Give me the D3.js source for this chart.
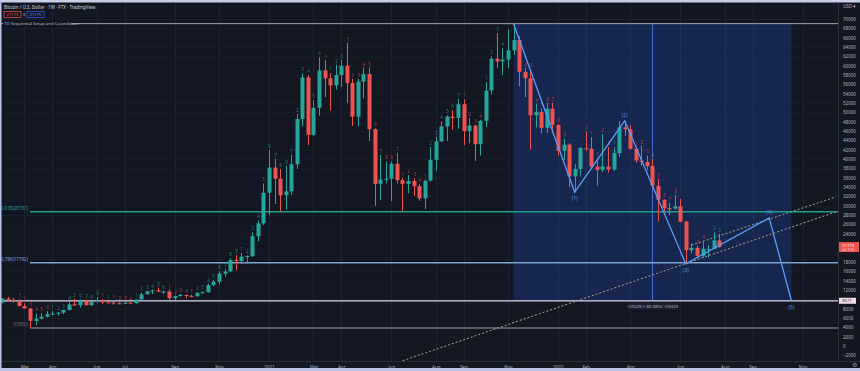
<!DOCTYPE html>
<html>
<head>
<meta charset="utf-8">
<script src="https://cdn.jsdelivr.net/npm/d3@7"></script>
<style>
  html, body { margin: 0; padding: 0; background: #131722; }
  svg { display: block; font-family: "Noto Sans", Roboto, sans-serif; }
</style>
</head>
<body>
<svg id="chart" width="860" height="371"></svg>
<script>
// weekly BTC/USD candles (FTX, 1W), first bar = week of 2020-01-27
var firstWeek = "2020-01-27";
var opens = [8370,9330,10150,9900,9650,8550,8030,5370,5830,6250,6780,6900,7130,7690,8900,8720,9680,8720,9450,9760,
  9330,9300,9140,9080,9250,9160,9940,11050,11700,11900,11650,11660,10250,10670,10920,10720,10660,11370,11500,13030,
  13760,15480,15960,18400,18180,19150,19270,23480,26250,32800,38200,35800,32250,33100,38900,48600,57500,45200,51000,59000,
  57300,55800,58000,60000,56300,49100,56600,58200,46400,34700,35600,35800,39000,35500,34700,35300,34200,31600,35400,39850,
  43800,47000,49100,48800,51750,46000,47200,43200,48200,54700,61500,60900,61300,63300,65500,58700,57300,49400,50100,46700,
  50800,47300,41800,43100,36300,37900,42400,42200,38400,37700,38400,37800,41300,46800,46400,42200,39700,39400,38500,34300,
  31300,29500,29400,29900,26600,20500,21000,19300,20800,20800,22600];
var highs = [9570,10160,10500,10250,9950,9180,8150,6950,6980,7480,7480,7250,7750,9470,10070,9950,9880,9600,10430,9990,
  9590,9790,9350,9470,9300,9950,11450,11800,12080,12480,11800,12080,10800,11180,10980,10950,11450,11720,13350,14100,
  15970,16480,18800,19490,19900,19400,24300,26900,34800,41950,40100,37850,38600,40950,49700,58350,58000,52600,61800,61200,
  58400,60200,61300,64900,57200,57200,59600,59600,46600,40900,39500,39500,41300,36000,36600,35900,34700,35600,42600,44800,
  48100,49400,50500,52900,52800,48800,47400,48400,56500,62000,67000,63700,67800,69000,66300,59600,59200,51900,50900,52100,
  52100,47500,44400,43400,38900,42600,45900,44700,40300,45400,42600,42500,48200,48200,47200,42400,42900,40800,40000,35800,
  31400,30600,32400,31500,26800,21900,21500,22500,21600,24300,24000];
var lows = [8290,9150,9700,9300,8450,8000,3850,4440,5700,6150,6750,6480,6800,7640,8540,8200,8700,8630,9270,9050,
  9200,8830,8930,9050,9010,9100,9900,10950,11130,11500,11120,9900,9850,10600,10150,10400,10530,11220,11400,12750,
  13200,14800,15800,16200,17600,17600,19000,22400,25900,28000,30400,28800,29200,32300,37900,47000,43000,44950,49300,53300,
  50400,54900,55500,52000,47100,47000,53000,43900,30000,31200,34800,31000,34800,28800,32700,32100,31100,29300,35200,37500,
  43700,43900,46300,46500,43000,43400,39600,40800,46900,53900,59500,58000,59500,62300,55600,53300,42000,46800,45500,45600,
  45700,40700,39800,34000,32900,36300,41700,38000,34300,37200,37100,37500,40500,45000,42000,39200,38600,37600,33700,26700,
  28700,28000,29200,26500,17600,19800,18900,18900,18900,20700,21000];
var closes = [9330,10150,9900,9650,8550,8030,5370,5830,6250,6780,6900,7130,7690,8900,8720,9680,8720,9450,9760,9330,
  9300,9140,9080,9250,9160,9940,11050,11700,11900,11650,11660,10250,10670,10920,10720,10660,11370,11500,13030,13760,
  15480,15960,18400,18180,19150,19270,23480,26250,32800,38200,35800,32250,33100,38900,48600,57500,45200,51000,59000,57300,
  55800,58000,60000,56300,49100,56600,58200,46400,34700,35600,35800,39000,35500,34700,35300,34200,31600,35400,39850,43800,
  47000,49100,48800,51750,46000,47200,43200,48200,54700,61500,60900,61300,63300,65500,58700,57300,49400,50100,46700,50800,
  47300,41800,43100,36300,37900,42400,42200,38400,37700,38400,37800,41300,46800,46400,42200,39700,39400,38500,34300,31300,
  29500,29400,29900,26600,20500,21000,19300,20800,20800,22600,21173];

// time axis labels (first weekly bar of each labelled month)
var timeTickDates = ["2020-03-02","2020-04-06","2020-06-01","2020-07-06","2020-09-07","2020-11-02","2021-01-04","2021-03-01",
  "2021-04-05","2021-06-07","2021-08-02","2021-09-06","2021-11-01","2022-01-03","2022-02-07","2022-04-04","2022-06-06",
  "2022-08-01","2022-09-05","2022-11-07"];
var timeTickLabels = ["Mar","Apr","Jun","Jul","Sep","Nov","2021","Mar","Apr","Jun","Aug","Sep","Nov","2022","Feb","Apr",
  "Jun","Aug","Sep","Nov"];
var priceTicks = d3.range(-2000, 70001, 2000);

// drawings
var athPrice = 69000;
var fibStart = "2020-03-09";
var fibValues = [28737, 17792, 3850];
var fibLabels = ["0.618(28737)", "0.786(17792)", "1(3850)"];
var targetPrice = 9671;
var waveDates = ["2021-11-08","2022-01-24","2022-03-28","2022-06-13","2022-09-26","2022-10-24"];
var wavePrices = [69000, 32950, 48200, 17600, 27400, 9671];
var waveLabels = ["", "(1)", "(2)", "(3)", "(4)", "(5)"];
var trendA = { dates: ["2021-06-07", "2022-12-19"], prices: [-4000, 28700] };
var trendB = { dates: ["2022-06-20", "2022-12-19"], prices: [21600, 31900] };
var measureLabel = "\u221259329 (\u221285.98%) \u221259329";
var lastPrice = 21173;

var W = 860, H = 371;
var plotRight = 838, axisY = 361;
var parse = d3.utcParse("%Y-%m-%d");
var svg = d3.select("#chart");

var x = d3.scaleUtc()
  .domain([parse("2021-01-04"), parse("2022-01-03")])
  .range([269, 558]);
var y = d3.scaleLinear().domain([-2000, 70000]).range([355.3, 19]);

var bars = opens.map(function(o, i) {
  return { date: d3.utcWeek.offset(parse(firstWeek), i), o: o, h: highs[i], l: lows[i], c: closes[i] };
});

// background
svg.append("rect").attr("width", W).attr("height", H).attr("fill", "#131722");

// grid
var grid = svg.append("g");
grid.selectAll(".vg").data(timeTickDates).enter().append("line")
  .attr("x1", function(d){ return Math.round(x(parse(d))) + 0.5; })
  .attr("x2", function(d){ return Math.round(x(parse(d))) + 0.5; })
  .attr("y1", 3).attr("y2", axisY)
  .attr("stroke", "#1f2433").attr("stroke-width", 1);
grid.selectAll(".hg").data(priceTicks).enter().append("line")
  .attr("x1", 0).attr("x2", plotRight)
  .attr("y1", function(d){ return Math.round(y(d)) + 0.5; })
  .attr("y2", function(d){ return Math.round(y(d)) + 0.5; })
  .attr("stroke", "#181c28").attr("stroke-width", 1);

// measure box (ATH -> projected (5))
var mx0 = x(parse(waveDates[0])), mx1 = x(parse(waveDates[5]));
svg.append("rect")
  .attr("x", mx0).attr("y", y(athPrice))
  .attr("width", mx1 - mx0).attr("height", y(targetPrice) - y(athPrice))
  .attr("fill", "#2962ff").attr("fill-opacity", 0.2);
svg.append("line")
  .attr("x1", (mx0 + mx1) / 2).attr("x2", (mx0 + mx1) / 2)
  .attr("y1", y(athPrice)).attr("y2", y(targetPrice))
  .attr("stroke", "#3f6fd8").attr("stroke-width", 1);

// horizontal levels
svg.append("line").attr("x1", 0).attr("x2", plotRight)
  .attr("y1", y(athPrice)).attr("y2", y(athPrice))
  .attr("stroke", "#a9adb8").attr("stroke-width", 1);
svg.append("line").attr("x1", 0).attr("x2", plotRight)
  .attr("y1", y(targetPrice)).attr("y2", y(targetPrice))
  .attr("stroke", "#ddd6ec").attr("stroke-width", 1.2);

var fibColors = ["#1f9e8a", "#7da2cf", "#6c6f7a"];
var fx = x(parse(fibStart));
var fib = svg.append("g");
fib.selectAll("line").data(fibValues).enter().append("line")
  .attr("x1", fx).attr("x2", plotRight)
  .attr("y1", function(d){ return y(d); }).attr("y2", function(d){ return y(d); })
  .attr("stroke", function(d, i){ return fibColors[i]; })
  .attr("stroke-width", 1.5);
fib.selectAll("text").data(fibValues).enter().append("text")
  .attr("x", fx - 2).attr("y", function(d){ return y(d) - 2; })
  .attr("text-anchor", "end").attr("font-size", 4.5)
  .attr("fill", function(d, i){ return fibColors[i]; })
  .text(function(d, i){ return fibLabels[i]; });

// dotted trend lines
[trendA, trendB].forEach(function(t) {
  svg.append("line")
    .attr("x1", x(parse(t.dates[0]))).attr("y1", y(t.prices[0]))
    .attr("x2", x(parse(t.dates[1]))).attr("y2", y(t.prices[1]))
    .attr("stroke", "#a9a48f").attr("stroke-width", 1)
    .attr("stroke-dasharray", "2,2");
});

// candles
var bw = 4;
var candle = svg.append("g").selectAll("g").data(bars).enter().append("g");
candle.append("line")
  .attr("x1", function(d){ return Math.round(x(d.date)) + 0.5; })
  .attr("x2", function(d){ return Math.round(x(d.date)) + 0.5; })
  .attr("y1", function(d){ return y(d.h); })
  .attr("y2", function(d){ return y(d.l); })
  .attr("stroke", function(d){ return d.c >= d.o ? "#26a69a" : "#ef5350"; });
candle.append("rect")
  .attr("x", function(d){ return Math.round(x(d.date)) + 0.5 - bw / 2; })
  .attr("y", function(d){ return y(Math.max(d.o, d.c)); })
  .attr("width", bw)
  .attr("height", function(d){ return Math.max(1, Math.abs(y(d.o) - y(d.c))); })
  .attr("fill", function(d){ return d.c >= d.o ? "#26a69a" : "#ef5350"; });

// TD sequential setup counts (skipped on the wave pivot bars, where the wave labels sit)
var up = 0, dn = 0, td = [];
bars.forEach(function(b, i) {
  if (i < 4) return;
  if (b.c > bars[i - 4].c) { up = up % 9 + 1; dn = 0; td.push({ b: b, n: up, col: "#22a88f" }); }
  else if (b.c < bars[i - 4].c) { dn = dn % 9 + 1; up = 0; td.push({ b: b, n: dn, col: "#e0484a" }); }
});
var pivotTimes = waveDates.map(function(d){ return +parse(d); });
td = td.filter(function(t){
  return pivotTimes.every(function(p){ return Math.abs(+t.b.date - p) > 8 * 864e5; });
});
svg.append("g").selectAll("text").data(td).enter().append("text")
  .attr("x", function(d){ return Math.round(x(d.b.date)) + 0.5; })
  .attr("y", function(d){ return y(d.b.h) - 2; })
  .attr("text-anchor", "middle").attr("font-size", 4.5)
  .attr("fill", function(d){ return d.col; }).attr("fill-opacity", 0.75)
  .text(function(d){ return d.n; });

// elliott wave
var wave = waveDates.map(function(d, i){ return { date: parse(d), p: wavePrices[i], label: waveLabels[i] }; });
svg.append("path").datum(wave)
  .attr("d", d3.line().x(function(d){ return x(d.date); }).y(function(d){ return y(d.p); }))
  .attr("fill", "none").attr("stroke", "#5b9cf6").attr("stroke-width", 1.3);
svg.append("g").selectAll("text").data(wave.filter(function(d){ return d.label; })).enter().append("text")
  .attr("x", function(d){ return x(d.date); })
  .attr("y", function(d, i){ return i % 2 === 1 ? y(d.p) - 4 : y(d.p) + 8; })
  .attr("text-anchor", "middle").attr("font-size", 5)
  .attr("fill", "#5b8fd6")
  .text(function(d){ return d.label; });

// measure label
var mcx = (mx0 + mx1) / 2, mly = y(targetPrice) + 7;
svg.append("rect").attr("x", mcx - 25).attr("y", mly - 4.5).attr("width", 50).attr("height", 6)
  .attr("fill", "#1e2230");
svg.append("text").attr("x", mcx).attr("y", mly).attr("text-anchor", "middle")
  .attr("font-size", 4.3).attr("fill", "#b2b5be").text(measureLabel);

// price axis (labels hidden where the price tags sit)
var ly = y(lastPrice), ty = y(targetPrice);
svg.append("rect").attr("x", plotRight).attr("y", 0).attr("width", W - plotRight).attr("height", H)
  .attr("fill", "#131722");
svg.append("line").attr("x1", plotRight + 0.5).attr("x2", plotRight + 0.5).attr("y1", 3).attr("y2", H)
  .attr("stroke", "#2a2e39");
var visibleTicks = priceTicks.filter(function(p){
  return Math.abs(y(p) - ly) > 8 && Math.abs(y(p) - ty) > 5.5;
});
var yAxis = svg.append("g").attr("transform", "translate(" + plotRight + ",0)")
  .call(d3.axisRight(y).tickValues(visibleTicks).tickSize(0).tickPadding(5)
    .tickFormat(function(d){ return d < 0 ? "\u2212" + Math.abs(d) : d; }));
yAxis.select(".domain").remove();
yAxis.selectAll("text").attr("font-size", 4.5).attr("fill", "#b2b5be").attr("font-family", "Noto Sans, sans-serif");
svg.append("text").attr("x", 843).attr("y", 8).attr("font-size", 4.5).attr("fill", "#b2b5be").text("USD \u25BE");

// last price + target tags
svg.append("rect").attr("x", plotRight + 1).attr("y", ly - 5).attr("width", 20).attr("height", 10)
  .attr("fill", "#f0524f");
svg.append("text").attr("x", 842).attr("y", ly - 0.5).attr("font-size", 4.3).attr("fill", "#fff").text(lastPrice);
svg.append("text").attr("x", 842).attr("y", ly + 4).attr("font-size", 3.8).attr("fill", "#fde").text("4d 11h");
svg.append("rect").attr("x", plotRight + 1).attr("y", ty - 3).attr("width", 17).attr("height", 6)
  .attr("fill", "#f3dcea");
svg.append("text").attr("x", 842).attr("y", ty + 1.6).attr("font-size", 4.3).attr("fill", "#333").text(targetPrice);

// time axis
svg.append("rect").attr("x", 0).attr("y", axisY).attr("width", W).attr("height", H - axisY).attr("fill", "#131722");
svg.append("line").attr("x1", 0).attr("x2", W).attr("y1", axisY + 0.5).attr("y2", axisY + 0.5).attr("stroke", "#2a2e39");
var xAxis = svg.append("g").attr("transform", "translate(0," + axisY + ")")
  .call(d3.axisBottom(x).tickValues(timeTickDates.map(parse)).tickSize(0).tickPadding(5)
    .tickFormat(function(d, i){ return timeTickLabels[i]; }));
xAxis.select(".domain").remove();
xAxis.selectAll("text").attr("font-size", 4.5).attr("fill", "#b2b5be").attr("font-family", "Noto Sans, sans-serif");
svg.append("text").attr("x", 852).attr("y", 367).attr("font-size", 6).attr("fill", "#8a8e99").text("\u2699");

// header
svg.append("text").attr("x", 4).attr("y", 8.5).attr("font-size", 4.5).attr("fill", "#d1d4dc")
  .text("Bitcoin / U.S. Dollar \u00b7 1W \u00b7 FTX \u00b7 TradingView");
svg.append("rect").attr("x", 4).attr("y", 11.5).attr("width", 17).attr("height", 6)
  .attr("fill", "none").attr("stroke", "#ef5350").attr("stroke-width", 0.7);
svg.append("text").attr("x", 12.5).attr("y", 16).attr("text-anchor", "middle").attr("font-size", 4.2)
  .attr("fill", "#ef5350").text("21173");
svg.append("text").attr("x", 23).attr("y", 16).attr("font-size", 4.2).attr("fill", "#b2b5be").text("0");
svg.append("rect").attr("x", 27).attr("y", 11.5).attr("width", 17).attr("height", 6)
  .attr("fill", "none").attr("stroke", "#2962ff").attr("stroke-width", 0.7);
svg.append("text").attr("x", 35.5).attr("y", 16).attr("text-anchor", "middle").attr("font-size", 4.2)
  .attr("fill", "#5b8ff9").text("21175");
svg.append("rect").attr("x", 3).attr("y", 20.5).attr("width", 68).attr("height", 6).attr("fill", "#131722");
svg.append("text").attr("x", 4).attr("y", 25).attr("font-size", 4.3).attr("fill", "#b2b5be")
  .text("TD Sequential Setup and Countdown");

// screenshot frame
svg.append("rect").attr("x", 0).attr("y", 0).attr("width", W).attr("height", 2.5).attr("fill", "#c9d0e6");
svg.append("rect").attr("x", 0).attr("y", 368).attr("width", W).attr("height", 3).attr("fill", "#b9c3e6");
svg.append("rect").attr("x", 0).attr("y", 0).attr("width", 1.5).attr("height", H).attr("fill", "#b9c3e6");
</script>
</body>
</html>
